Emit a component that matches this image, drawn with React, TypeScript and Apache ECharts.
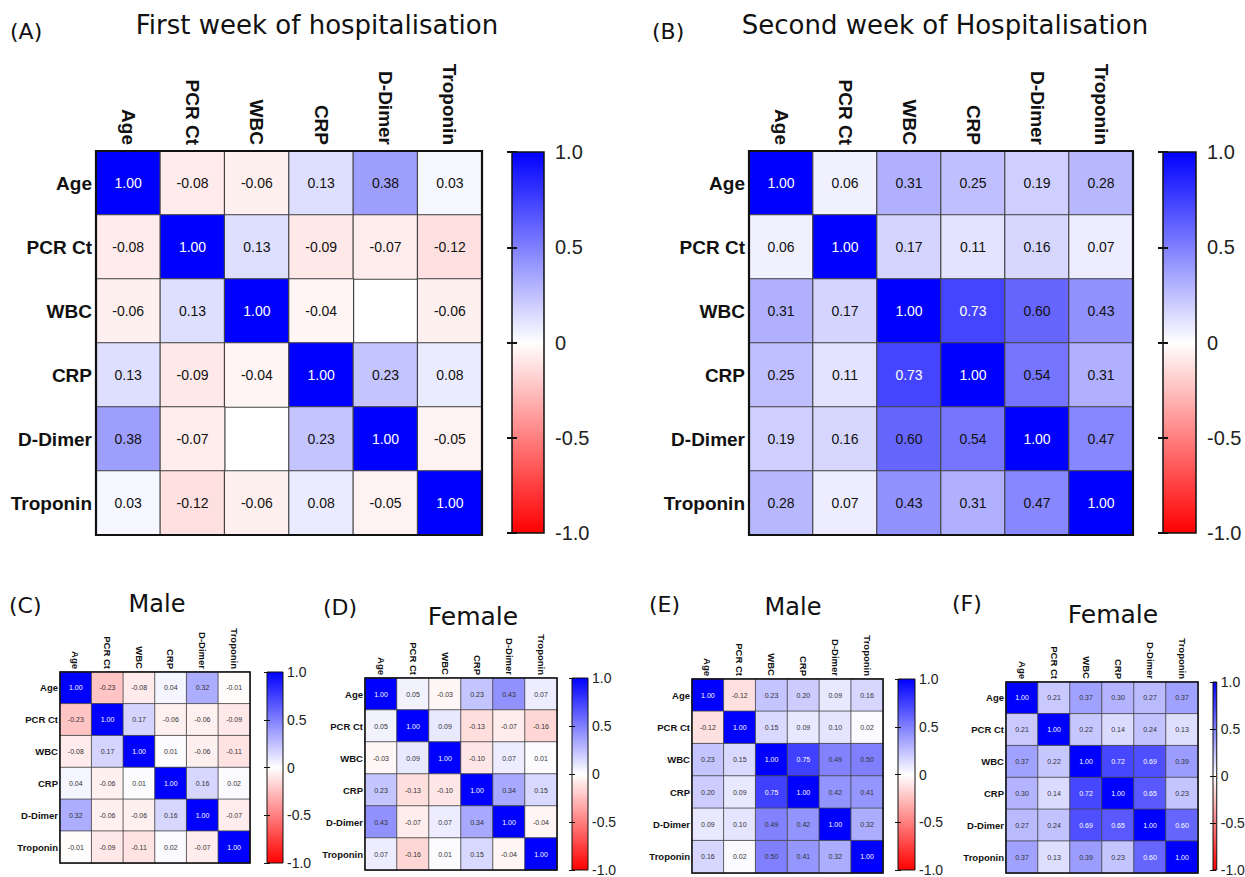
import React, { useEffect, useRef } from "react";
import * as echarts from "echarts";

const variables = ["Age", "PCR Ct", "WBC", "CRP", "D-Dimer", "Troponin"];

// null = empty cell in the reference
const firstWeek = [
  [1.0, -0.08, -0.06, 0.13, 0.38, 0.03],
  [-0.08, 1.0, 0.13, -0.09, -0.07, -0.12],
  [-0.06, 0.13, 1.0, -0.04, null, -0.06],
  [0.13, -0.09, -0.04, 1.0, 0.23, 0.08],
  [0.38, -0.07, null, 0.23, 1.0, -0.05],
  [0.03, -0.12, -0.06, 0.08, -0.05, 1.0],
];

const secondWeek = [
  [1.0, 0.06, 0.31, 0.25, 0.19, 0.28],
  [0.06, 1.0, 0.17, 0.11, 0.16, 0.07],
  [0.31, 0.17, 1.0, 0.73, 0.6, 0.43],
  [0.25, 0.11, 0.73, 1.0, 0.54, 0.31],
  [0.19, 0.16, 0.6, 0.54, 1.0, 0.47],
  [0.28, 0.07, 0.43, 0.31, 0.47, 1.0],
];

const firstWeekMale = [
  [1.0, -0.23, -0.08, 0.04, 0.32, -0.01],
  [-0.23, 1.0, 0.17, -0.06, -0.06, -0.09],
  [-0.08, 0.17, 1.0, 0.01, -0.06, -0.11],
  [0.04, -0.06, 0.01, 1.0, 0.16, 0.02],
  [0.32, -0.06, -0.06, 0.16, 1.0, -0.07],
  [-0.01, -0.09, -0.11, 0.02, -0.07, 1.0],
];

const firstWeekFemale = [
  [1.0, 0.05, -0.03, 0.23, 0.43, 0.07],
  [0.05, 1.0, 0.09, -0.13, -0.07, -0.16],
  [-0.03, 0.09, 1.0, -0.1, 0.07, 0.01],
  [0.23, -0.13, -0.1, 1.0, 0.34, 0.15],
  [0.43, -0.07, 0.07, 0.34, 1.0, -0.04],
  [0.07, -0.16, 0.01, 0.15, -0.04, 1.0],
];

const secondWeekMale = [
  [1.0, -0.12, 0.23, 0.2, 0.09, 0.16],
  [-0.12, 1.0, 0.15, 0.09, 0.1, 0.02],
  [0.23, 0.15, 1.0, 0.75, 0.49, 0.5],
  [0.2, 0.09, 0.75, 1.0, 0.42, 0.41],
  [0.09, 0.1, 0.49, 0.42, 1.0, 0.32],
  [0.16, 0.02, 0.5, 0.41, 0.32, 1.0],
];

const secondWeekFemale = [
  [1.0, 0.21, 0.37, 0.3, 0.27, 0.37],
  [0.21, 1.0, 0.22, 0.14, 0.24, 0.13],
  [0.37, 0.22, 1.0, 0.72, 0.69, 0.39],
  [0.3, 0.14, 0.72, 1.0, 0.65, 0.23],
  [0.27, 0.24, 0.69, 0.65, 1.0, 0.6],
  [0.37, 0.13, 0.39, 0.23, 0.6, 1.0],
];

const panelLetters = ["(A)", "(B)", "(C)", "(D)", "(E)", "(F)"];
const panelTitles = [
  "First week of hospitalisation",
  "Second week of Hospitalisation",
  "Male",
  "Female",
  "Male",
  "Female",
];

const matrices = [
  firstWeek,
  secondWeek,
  firstWeekMale,
  firstWeekFemale,
  secondWeekMale,
  secondWeekFemale,
];

// layout (positions / sizes / styles)
const layouts = [
  {
    grid: { left: 96, top: 151, width: 386, height: 384 },
    bar: { left: 512, top: 152, width: 32, height: 381 },
    letter: { x: 10, y: 31, size: 22 },
    title: { x: 317, y: 25, size: 26 },
    big: true,
  },
  {
    grid: { left: 749, top: 151, width: 384, height: 384 },
    bar: { left: 1163, top: 152, width: 33, height: 381 },
    letter: { x: 652, y: 31, size: 22 },
    title: { x: 945, y: 25, size: 26 },
    big: true,
  },
  {
    grid: { left: 60, top: 672, width: 190, height: 191 },
    bar: { left: 267, top: 672, width: 16, height: 191 },
    letter: { x: 9, y: 605, size: 22 },
    title: { x: 157, y: 604, size: 24 },
    big: false,
  },
  {
    grid: { left: 365, top: 678, width: 192, height: 192 },
    bar: { left: 572, top: 678, width: 16, height: 192 },
    letter: { x: 323, y: 607, size: 22 },
    title: { x: 473, y: 616, size: 25 },
    big: false,
  },
  {
    grid: { left: 692, top: 679, width: 191, height: 194 },
    bar: { left: 898, top: 679, width: 17, height: 194 },
    letter: { x: 649, y: 604, size: 22 },
    title: { x: 793, y: 607, size: 24 },
    big: false,
  },
  {
    grid: { left: 1006, top: 682, width: 192, height: 191 },
    bar: { left: 1213, top: 682, width: 15, height: 191 },
    letter: { x: 952, y: 603, size: 22 },
    title: { x: 1113, y: 614, size: 25 },
    big: false,
  },
];

const AXIS_FONT = "'Liberation Sans', Arial, sans-serif";
const TITLE_FONT = "'DejaVu Sans', Verdana, sans-serif";

export default function App() {
  const ref = useRef<HTMLDivElement>(null);

  useEffect(() => {
    document.body.style.margin = "0";
    if (!ref.current) return;
    const chart = echarts.init(ref.current, undefined, { renderer: "svg" });

    const grids: any[] = [];
    const xAxes: any[] = [];
    const yAxes: any[] = [];
    const series: any[] = [];
    const visualMaps: any[] = [];
    const graphics: any[] = [];

    layouts.forEach((L, i) => {
      const big = L.big;
      const heatGrid = grids.length;
      grids.push({ ...L.grid, show: false, containLabel: false });
      const barGrid = grids.length;
      grids.push({
        ...L.bar,
        show: true,
        backgroundColor: new echarts.graphic.LinearGradient(0, 0, 0, 1, [
          { offset: 0, color: "#0000ff" },
          { offset: 0.5, color: "#ffffff" },
          { offset: 1, color: "#ff0000" },
        ]),
        borderColor: "#111",
        borderWidth: big ? 1.5 : 1,
        containLabel: false,
      });

      const hx = xAxes.length;
      xAxes.push({
        type: "category",
        gridIndex: heatGrid,
        data: variables,
        position: "top",
        axisLine: { show: false },
        axisTick: { show: false },
        splitLine: { show: false },
        axisLabel: {
          interval: 0,
          rotate: 90,
          margin: big ? 6 : 3,
          fontSize: big ? 19 : 9.5,
          fontWeight: "bold",
          fontFamily: AXIS_FONT,
          color: "#111",
        },
      });
      xAxes.push({
        type: "value",
        gridIndex: barGrid,
        min: 0,
        max: 1,
        show: false,
      });

      const hy = yAxes.length;
      yAxes.push({
        type: "category",
        gridIndex: heatGrid,
        data: variables,
        inverse: true,
        axisLine: { show: false },
        axisTick: { show: false },
        splitLine: { show: false },
        axisLabel: {
          interval: 0,
          margin: big ? 4 : 2,
          fontSize: big ? 19 : 9.5,
          fontWeight: "bold",
          fontFamily: AXIS_FONT,
          color: "#111",
        },
      });
      const tickStyle = {
        show: true,
        inside: true,
        length: big ? 5 : 3,
        lineStyle: { color: "#111", width: big ? 2 : 1 },
      };
      yAxes.push({
        type: "value",
        gridIndex: barGrid,
        position: "right",
        min: -1,
        max: 1,
        interval: 0.5,
        axisLine: { show: false },
        axisTick: tickStyle,
        splitLine: { show: false },
        axisLabel: {
          margin: big ? 11 : 4,
          fontSize: big ? 20 : 14,
          fontFamily: AXIS_FONT,
          color: "#222",
          formatter: (v: number) => (v === 0 ? "0" : v.toFixed(1)),
        },
      });
      yAxes.push({
        type: "value",
        gridIndex: barGrid,
        position: "left",
        min: -1,
        max: 1,
        interval: 0.5,
        axisLine: { show: false },
        axisTick: tickStyle,
        splitLine: { show: false },
        axisLabel: { show: false },
      });

      const M = matrices[i];
      const data: any[] = [];
      M.forEach((row, r) => {
        row.forEach((v, c) => {
          if (v === null || v === undefined) return;
          const white = big ? v >= 0.7 : v >= 0.6;
          data.push({
            value: [c, r, v],
            label: { color: white ? "#ffffff" : big ? "#111" : "#333" },
          });
        });
      });

      series.push({
        type: "heatmap",
        xAxisIndex: hx,
        yAxisIndex: hy,
        data,
        itemStyle: { borderColor: "#444", borderWidth: big ? 1.2 : 0.8 },
        emphasis: { disabled: true },
        label: {
          show: true,
          fontSize: big ? 14 : 7,
          fontFamily: AXIS_FONT,
          formatter: (p: any) => Number(p.value[2]).toFixed(2),
        },
      });

      visualMaps.push({
        type: "continuous",
        show: false,
        min: -1,
        max: 1,
        dimension: 2,
        seriesIndex: i,
        inRange: { color: ["#ff0000", "#ffffff", "#0000ff"] },
      });

      graphics.push({
        type: "rect",
        z: 100,
        silent: true,
        shape: { x: L.grid.left, y: L.grid.top, width: L.grid.width, height: L.grid.height },
        style: { fill: "none", stroke: "#111", lineWidth: big ? 2.2 : 1.5 },
      });
      graphics.push({
        type: "text",
        x: L.letter.x,
        y: L.letter.y,
        style: {
          text: panelLetters[i],
          font: `${L.letter.size}px ${TITLE_FONT}`,
          fill: "#111",
          textAlign: "left",
          textVerticalAlign: "middle",
        },
      });
      graphics.push({
        type: "text",
        x: L.title.x,
        y: L.title.y,
        style: {
          text: panelTitles[i],
          font: `${L.title.size}px ${TITLE_FONT}`,
          fill: "#111",
          textAlign: "center",
          textVerticalAlign: "middle",
        },
      });
    });

    chart.setOption({
      animation: false,
      backgroundColor: "#ffffff",
      grid: grids,
      xAxis: xAxes,
      yAxis: yAxes,
      visualMap: visualMaps,
      series,
      graphic: graphics,
    });

    return () => {
      chart.dispose();
    };
  }, []);

  return <div ref={ref} style={{ width: 1245, height: 877 }} />;
}
